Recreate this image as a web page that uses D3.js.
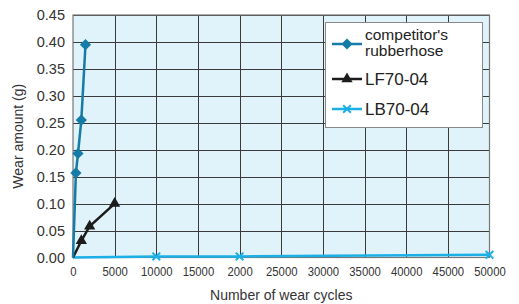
<!DOCTYPE html>
<html lang="en">
<head>
  <meta charset="UTF-8">
  <title>Wear amount vs wear cycles</title>
  <style>
    body { margin: 0; background: #fff; }
    svg { display: block; font-family: "Liberation Sans", "Noto Sans", sans-serif; }
    .grid line { stroke: #3a3a3a; stroke-width: 1; }
    .tick text { fill: #333; }
  </style>
  <script src="https://d3js.org/d3.v7.min.js"></script>
</head>
<body>
  <svg></svg>
  <script>
    const width = 519;
    const height = 304;

    // data
    const xTicks = [0, 5000, 10000, 15000, 20000, 25000, 30000, 35000, 40000, 45000, 50000];
    const xTickLabels = ["0", "5000", "10000", "15000", "2000", "25000", "30000", "35000", "40000", "45000", "50000"];
    const yTicks = [0, 0.05, 0.10, 0.15, 0.20, 0.25, 0.30, 0.35, 0.40, 0.45];

    const competitor = [[0, 0], [350, 0.157], [600, 0.193], [1000, 0.255], [1500, 0.395]];
    const lf70 = [[0, 0], [1000, 0.031], [2000, 0.058], [5000, 0.100]];
    const lb70 = [[0, 0], [10000, 0.002], [20000, 0.002], [50000, 0.005]];

    const series = [
      {name: ["competitor's", "rubberhose"], data: competitor, color: "#147ca6", marker: "diamond"},
      {name: ["LF70-04"], data: lf70, color: "#1c1c1c", marker: "triangle"},
      {name: ["LB70-04"], data: lb70, color: "#1ab0e6", marker: "cross"}
    ];

    const margin = {top: 15, right: 30, bottom: 46, left: 73};

    const svg = d3.select("svg")
      .attr("width", width)
      .attr("height", height);

    const x = d3.scaleLinear()
      .domain([0, 50000])
      .range([margin.left, width - margin.right + 0.5]);

    const y = d3.scaleLinear()
      .domain([0, 0.45])
      .range([height - margin.bottom - 0.5, margin.top]);

    // plot background
    svg.append("rect")
      .attr("x", x(0))
      .attr("y", y(0.45))
      .attr("width", x(50000) - x(0))
      .attr("height", y(0) - y(0.45))
      .attr("fill", "#e0f2fa");

    // grid
    const grid = svg.append("g").attr("class", "grid");
    grid.selectAll("line.v")
      .data(xTicks.slice(1, -1))
      .join("line")
      .attr("class", "v")
      .attr("x1", d => Math.round(x(d)) + 0.5)
      .attr("x2", d => Math.round(x(d)) + 0.5)
      .attr("y1", y(0.45))
      .attr("y2", y(0));
    grid.selectAll("line.h")
      .data(yTicks.slice(1))
      .join("line")
      .attr("class", "h")
      .attr("x1", x(0))
      .attr("x2", x(50000))
      .attr("y1", d => Math.round(y(d)) + 0.5)
      .attr("y2", d => Math.round(y(d)) + 0.5);

    // frame
    svg.append("rect")
      .attr("x", x(0))
      .attr("y", y(0.45))
      .attr("width", x(50000) - x(0))
      .attr("height", y(0) - y(0.45))
      .attr("fill", "none")
      .attr("stroke", "#777")
      .attr("stroke-width", 1.2);

    // axes
    const xAxis = svg.append("g")
      .attr("transform", `translate(0,${y(0)})`)
      .call(d3.axisBottom(x).tickValues(xTicks).tickSize(0).tickPadding(9)
        .tickFormat((d, i) => xTickLabels[i]));
    xAxis.select(".domain").remove();
    xAxis.selectAll("text")
      .attr("font-size", 13)
      .attr("textLength", function(d, i) { return xTickLabels[i].length * 6.3; })
      .attr("lengthAdjust", "spacingAndGlyphs");

    const yAxis = svg.append("g")
      .attr("transform", `translate(${x(0)},0)`)
      .call(d3.axisLeft(y).tickValues(yTicks).tickSize(0).tickPadding(8)
        .tickFormat(d3.format(".2f")));
    yAxis.select(".domain").remove();
    yAxis.selectAll("text").attr("font-size", 14.5);

    svg.append("text")
      .attr("x", (x(0) + x(50000)) / 2)
      .attr("y", 300)
      .attr("text-anchor", "middle")
      .attr("font-size", 14)
      .attr("fill", "#333")
      .text("Number of wear cycles");

    svg.append("text")
      .attr("transform", `translate(23,${(y(0) + y(0.45)) / 2}) rotate(-90)`)
      .attr("text-anchor", "middle")
      .attr("font-size", 14)
      .attr("fill", "#333")
      .text("Wear amount (g)");

    const line = d3.line().x(d => x(d[0])).y(d => y(d[1]));

    function drawMarker(g, type, color) {
      if (type === "diamond") {
        g.append("path")
          .attr("d", d3.symbol(d3.symbolDiamond2, 80)())
          .attr("fill", color);
      } else if (type === "triangle") {
        g.append("path")
          .attr("d", d3.symbol(d3.symbolTriangle, 55)())
          .attr("fill", color);
      } else {
        g.append("path")
          .attr("d", d3.symbol(d3.symbolTimes, 40)())
          .attr("stroke", color)
          .attr("stroke-width", 2)
          .attr("fill", "none");
      }
    }

    // series lines and markers
    series.slice().reverse().forEach(s => {
      svg.append("path")
        .datum(s.data)
        .attr("fill", "none")
        .attr("stroke", s.color)
        .attr("stroke-width", 2.5)
        .attr("d", line);
      s.data.slice(1).forEach(p => {
        const g = svg.append("g").attr("transform", `translate(${x(p[0])},${y(p[1])})`);
        drawMarker(g, s.marker, s.color);
      });
    });

    // legend
    const legend = svg.append("g");
    legend.append("rect")
      .attr("x", 325.5)
      .attr("y", 22.5)
      .attr("width", 157)
      .attr("height", 105)
      .attr("fill", "#fff")
      .attr("stroke", "#888");

    const legendY = [44, 79, 109];
    series.forEach((s, i) => {
      const ly = legendY[i];
      legend.append("line")
        .attr("x1", 332).attr("x2", 362)
        .attr("y1", ly).attr("y2", ly)
        .attr("stroke", s.color)
        .attr("stroke-width", 2.5);
      const g = legend.append("g").attr("transform", `translate(347,${ly})`);
      drawMarker(g, s.marker, s.color);
      const t = legend.append("text")
        .attr("x", 365)
        .attr("font-size", s.name.length > 1 ? 15.5 : 17)
        .attr("fill", "#222");
      if (s.name.length > 1) {
        s.name.forEach((n, j) => {
          t.append("tspan").attr("x", 365).attr("y", ly - 4 + j * 16).text(n);
        });
      } else {
        t.attr("y", ly + 6).text(s.name[0]);
      }
    });
  </script>
</body>
</html>
